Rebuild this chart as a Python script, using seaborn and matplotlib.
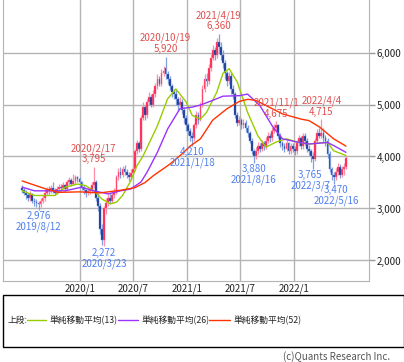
import numpy as np
import pandas as pd
import matplotlib
matplotlib.use('Agg')
import matplotlib.pyplot as plt
from matplotlib.lines import Line2D
from matplotlib.patches import Rectangle
import seaborn as sns

# weekly candles, first week starts 2019-06-17
start = '2019-06-17'
opens = [3400,3350,3300,3250,3200,3280,3150,3120,3100,3080,
         3150,3200,3300,3380,3330,3400,3350,3300,3380,3420,
         3400,3450,3380,3500,3550,3480,3520,3600,3560,3500,
         3400,3350,3300,3330,3350,3450,3500,3200,3050,2600,
         2400,3000,3100,3200,3150,3250,3300,3600,3700,3650,
         3750,3700,3650,3600,3680,3750,4100,4250,4150,4750,
         4950,4800,5050,5150,5000,5200,5350,5500,5400,5600,
         5700,5580,5500,5350,5250,5200,5100,5000,5050,4900,
         4750,4600,4500,4400,4350,4600,4800,4700,5000,5300,
         5500,5450,5700,5900,6050,5950,6200,6100,5950,5800,
         5600,5450,5550,5300,5200,4800,4650,4700,4600,4650,
         4550,4450,4300,4100,4000,4100,4200,4150,4250,4200,
         4300,4400,4350,4500,4550,4600,4400,4250,4200,4150,
         4250,4100,4200,4150,4100,4250,4350,4200,4400,4300,
         4150,4100,4000,3950,4300,4450,4400,4450,4350,4300,
         4050,3750,3650,3600,3700,3800,3650,3750,3800]
highs = [3450,3400,3350,3300,3330,3300,3200,3180,3150,3200,
         3260,3350,3420,3430,3450,3500,3400,3430,3480,3470,
         3500,3480,3540,3600,3580,3660,3640,3630,3600,3530,
         3450,3380,3400,3420,3500,3795,3550,3300,3100,2700,
         3050,3200,3280,3300,3320,3400,3650,3780,3800,3820,
         3830,3750,3700,3750,3830,4150,4320,4300,4800,5050,
         5000,5100,5250,5200,5280,5420,5580,5550,5680,5750,
         5920,5650,5550,5400,5300,5280,5150,5150,5100,4950,
         4800,4650,4550,4480,4650,4880,4850,5050,5380,5580,
         5600,5780,5980,6150,6100,6280,6360,6200,6050,5850,
         5650,5620,5600,5380,5250,4850,4780,4750,4720,4700,
         4600,4500,4350,4150,4180,4280,4250,4320,4300,4380,
         4480,4450,4560,4620,4675,4620,4450,4300,4250,4320,
         4280,4260,4250,4200,4320,4420,4400,4460,4450,4350,
         4220,4150,4080,4350,4520,4550,4715,4550,4420,4350,
         4100,3800,3700,3780,3880,3850,3820,3880,4000]
lows = [3300,3250,3180,3150,3150,3100,3050,3020,2976,3030,
        3100,3150,3250,3280,3300,3300,3250,3270,3330,3350,
        3370,3330,3350,3450,3430,3450,3480,3500,3450,3350,
        3280,3230,3250,3280,3300,3400,3150,2950,2500,2300,
        2272,2900,3050,3080,3100,3200,3280,3550,3580,3600,
        3650,3580,3520,3550,3620,3720,4050,4080,4100,4700,
        4700,4750,5000,4950,4950,5150,5300,5350,5350,5550,
        5500,5400,5280,5150,5100,5000,4900,4950,4820,4650,
        4500,4420,4300,4210,4300,4550,4620,4680,4950,5250,
        5350,5400,5650,5850,5850,5900,6000,5850,5700,5500,
        5350,5400,5200,5100,4750,4580,4600,4520,4550,4480,
        4380,4250,4050,3880,3950,4050,4080,4100,4120,4150,
        4250,4280,4300,4450,4480,4350,4180,4120,4080,4100,
        4050,4050,4080,4020,4050,4200,4150,4150,4220,4080,
        4020,3900,3765,3920,4250,4350,4350,4280,4200,3980,
        3700,3550,3470,3550,3650,3580,3600,3650,3750]
closes = [3350,3300,3250,3200,3280,3150,3120,3100,3080,3150,
          3200,3300,3380,3330,3400,3350,3300,3380,3420,3400,
          3450,3380,3500,3550,3480,3520,3600,3560,3500,3400,
          3350,3300,3330,3350,3450,3500,3200,3050,2600,2400,
          3000,3100,3200,3150,3250,3300,3600,3700,3650,3750,
          3700,3650,3600,3680,3750,4100,4250,4150,4750,4950,
          4800,5050,5150,5000,5200,5350,5500,5400,5600,5650,
          5580,5500,5350,5250,5200,5100,5000,5050,4900,4750,
          4600,4500,4400,4350,4600,4800,4700,5000,5300,5500,
          5450,5700,5900,6050,5950,6200,6100,5950,5800,5600,
          5450,5550,5300,5200,4800,4650,4700,4600,4650,4550,
          4450,4300,4100,4000,4100,4200,4150,4250,4200,4300,
          4400,4350,4500,4550,4600,4400,4250,4200,4150,4250,
          4100,4200,4150,4100,4250,4350,4200,4400,4300,4150,
          4100,4000,3950,4300,4450,4400,4450,4350,4300,4050,
          3750,3650,3600,3700,3800,3650,3750,3800,3980]

# moving averages
ma13_dates = ['2019-06-17','2019-07-29','2019-10-07','2019-11-11','2019-12-23','2020-01-20',
              '2020-02-17','2020-03-16','2020-04-13','2020-05-04','2020-05-25','2020-06-22',
              '2020-07-13','2020-08-03','2020-09-21','2020-10-26','2020-11-23','2020-12-28',
              '2021-01-18','2021-02-15','2021-03-08','2021-04-12','2021-05-03','2021-05-24',
              '2021-06-21','2021-07-26','2021-08-30','2021-09-27','2021-11-01','2021-12-06',
              '2022-01-10','2022-02-21','2022-03-28','2022-04-25','2022-05-16','2022-06-27']
ma13_vals = [3340,3250,3250,3410,3470,3440,3340,3180,3090,3120,3250,3530,
             3820,4010,4590,5110,5300,5050,4790,4720,4850,5240,5600,5690,
             5430,4850,4400,4180,4280,4340,4280,4240,4260,4270,4110,4020]
ma26_dates = ['2019-06-17','2019-07-29','2019-09-16','2019-11-11','2020-01-06','2020-02-17',
              '2020-04-06','2020-05-18','2020-06-22','2020-07-27','2020-08-17','2020-09-21',
              '2020-10-26','2020-12-07','2021-01-18','2021-02-15','2021-03-29','2021-05-03',
              '2021-06-28','2021-07-26','2021-09-06','2021-10-18','2021-11-22','2022-01-10',
              '2022-02-21','2022-04-25','2022-05-16','2022-06-27']
ma26_vals = [3410,3340,3340,3340,3410,3340,3280,3340,3375,3510,3700,4080,
             4530,4920,4950,4990,5080,5160,5170,5200,4980,4590,4340,4280,
             4240,4270,4210,4080]
ma52_dates = ['2019-06-17','2019-07-29','2019-09-09','2019-10-21','2019-12-30','2020-03-09',
              '2020-05-18','2020-07-06','2020-08-10','2020-09-07','2020-11-02','2020-12-14',
              '2021-01-11','2021-02-15','2021-03-29','2021-05-17','2021-06-28','2021-07-26',
              '2021-08-23','2021-09-27','2021-11-22','2022-01-24','2022-02-21','2022-03-28',
              '2022-05-16','2022-06-27']
ma52_vals = [3530,3450,3370,3310,3320,3300,3350,3400,3500,3630,3850,4050,
             4200,4340,4700,4920,5060,5100,5080,4980,4820,4720,4690,4570,
             4340,4200]

hi_dates = ['2020-02-17','2020-10-19','2021-04-19','2021-11-01','2022-04-04']
hi_vals = [3795,5920,6360,4675,4715]
lo_dates = ['2019-08-12','2020-03-23','2021-01-18','2021-08-16','2022-03-07','2022-05-16']
lo_vals = [2976,2272,4210,3880,3765,3470]

xtick_dates = ['2020-01-01','2020-07-01','2021-01-01','2021-07-01','2022-01-01']
xtick_labels = ['2020/1','2020/7','2021/1','2021/7','2022/1']
yticks = [2000,3000,4000,5000,6000]

sns.set_style('white')
plt.rcParams['font.family'] = ['Liberation Sans Narrow', 'Noto Sans CJK JP', 'DejaVu Sans']

df = pd.DataFrame({'date': pd.date_range(start, periods=len(closes), freq='W-MON'),
                   'open': opens, 'high': highs, 'low': lows, 'close': closes})
ma = pd.concat([
    pd.DataFrame({'date': pd.to_datetime(ma13_dates), 'val': ma13_vals, 'name': '13'}),
    pd.DataFrame({'date': pd.to_datetime(ma26_dates), 'val': ma26_vals, 'name': '26'}),
    pd.DataFrame({'date': pd.to_datetime(ma52_dates), 'val': ma52_vals, 'name': '52'}),
])
ma_colors = {'13': '#99cc00', '26': '#9933ff', '52': '#ff3300'}

W, H = 404, 362
fig = plt.figure(figsize=(W / 100, H / 100), dpi=100)
ax = fig.add_axes([2.5 / W, 1 - 280.5 / H, 366 / W, 280.5 / H])

up = df.close >= df.open
dn = ~up
ax.vlines(df.date[up], df.low[up], df.high[up], color='#ff8fa6', lw=0.9, zorder=2)
ax.vlines(df.date[dn], df.low[dn], df.high[dn], color='#7f9fe0', lw=0.9, zorder=2)
body = (df.close - df.open).abs().clip(lower=20)
ax.bar(df.date[up], body[up], bottom=df.open[up], width=6, color='#ff1f4f',
       edgecolor='#ff7f99', lw=0.3, zorder=3)
ax.bar(df.date[dn], body[dn], bottom=df.close[dn], width=6, color='#14338f',
       edgecolor='#6f8fd8', lw=0.3, zorder=3)

sns.lineplot(data=ma, x='date', y='val', hue='name', palette=ma_colors,
             legend=False, lw=1, ax=ax, zorder=4)

for d, v in zip(pd.to_datetime(hi_dates), hi_vals):
    ax.annotate(f'{d.year}/{d.month}/{d.day}\n{v:,}', xy=(d, v), xytext=(0, 2),
                textcoords='offset points', ha='center', va='bottom',
                color='#e05050', fontsize=7, linespacing=1.05, zorder=5)
lo_shift = [0, 0, 0, 0, -2, 2]
for d, v, s in zip(pd.to_datetime(lo_dates), lo_vals, lo_shift):
    ax.annotate(f'{v:,}\n{d.year}/{d.month}/{d.day}', xy=(d, v), xytext=(s, -1),
                textcoords='offset points', ha='center', va='top',
                color='#4f7fef', fontsize=7, linespacing=1.05, zorder=5)

ax.set_xlim(pd.Timestamp('2019-04-11'), pd.Timestamp('2022-09-12'))
ax.set_ylim(1615, 7010)
ax.set_xticks(pd.to_datetime(xtick_dates))
ax.set_xticklabels(xtick_labels)
ax.set_yticks(yticks)
ax.set_yticklabels([f'{v:,}' for v in yticks])
ax.yaxis.tick_right()
ax.tick_params(axis='x', length=0, pad=2, labelsize=7, labelcolor='#222222')
ax.tick_params(axis='y', length=4, width=1, color='#999999', pad=2,
               labelsize=7, labelcolor='#222222')
ax.grid(True, color='#b4b4b4', lw=1)
ax.set_xlabel('')
ax.set_ylabel('')
for s in ['left', 'right', 'bottom']:
    ax.spines[s].set_color('#b4b4b4')
ax.spines['top'].set_visible(False)

# legend box
fig.add_artist(Rectangle((2.5 / W, 1 - 347 / H), (W - 2.5) / W, 52 / H,
                         transform=fig.transFigure, fill=False, ec='black', lw=1))
ly = 1 - 320 / H
fig.text(7 / W, ly, '上段:', ha='left', va='center', fontsize=6.3, color='#222222')
for x0, x1, key in [(27, 46, '13'), (118, 138, '26'), (209, 230, '52')]:
    fig.add_artist(Line2D([x0 / W, x1 / W], [ly, ly], transform=fig.transFigure,
                          color=ma_colors[key], lw=1))
    fig.text((x1 + 4) / W, ly, f'単純移動平均({key})', ha='left', va='center',
             fontsize=6.3, color='#222222')

fig.text(390 / W, 1 - 357 / H, '(c)Quants Research Inc.', ha='right', va='center',
         fontsize=7, color='#555555')

fig.savefig('out.png', dpi=100)
